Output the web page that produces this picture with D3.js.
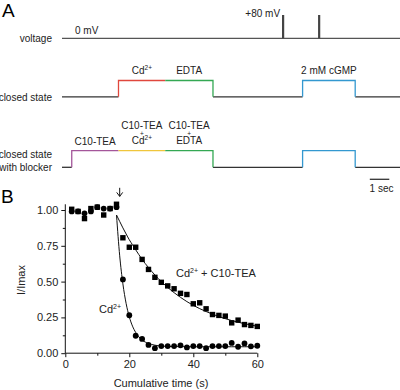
<!DOCTYPE html>
<html><head><meta charset="utf-8">
<script src="https://cdn.jsdelivr.net/npm/d3@7"></script>
<style>body{margin:0;background:#fff}svg{font-family:"Liberation Sans",Arial,sans-serif}</style>
</head><body><svg id="c" width="400" height="390"></svg>
<script>
// ---------- Panel A data (seconds) ----------
const traceEnd = 17.35;
const spikeTimes = [11.35, 13.2];
const closedSteps = [
  {label:"Cd", sup:"2+", on:2.9, off:5.3, color:"#e0473d"},
  {label:"EDTA", sup:"", on:5.3, off:7.75, color:"#34a853"},
  {label:"2 mM cGMP", sup:"", on:12.35, off:15.05, color:"#3398d0"}
];
const blockerSteps = [
  {lines:["C10-TEA"], on:0.5, off:2.9, color:"#a4569a"},
  {lines:["C10-TEA","+","Cd"], on:2.9, off:5.3, color:"#f0c63c"},
  {lines:["C10-TEA","+","EDTA"], on:5.3, off:7.75, color:"#34a853"},
  {lines:[], on:12.35, off:15.05, color:"#3398d0"}
];
// ---------- Panel B data ----------
const times = [2,4,6,8,10,12,14,16,18,20,22,24,26,28,30,32,34,36,38,40,42,44,46,48,50,52,54,56,58,60];
const cdTea = [1.005,0.99,0.94,1.01,1.02,0.965,1.01,1.04,0.806,0.74,0.74,0.655,0.585,0.53,0.495,0.47,0.45,0.418,0.41,0.345,0.352,0.31,0.27,0.264,0.259,0.212,0.231,0.2,0.194,0.187];
const cdOnly = [0.99,0.99,0.977,0.99,1.02,1.01,1.01,1.02,0.515,0.265,0.122,0.1,0.058,0.035,0.05,0.05,0.05,0.055,0.04,0.05,0.05,0.035,0.05,0.05,0.05,0.072,0.045,0.068,0.048,0.052];
const fitTimes = [16,17,18,19,20,21,22,23,24,26,28,30,32,36,40,44,48,52,56,60];
const fitCdTea = [0.965,0.92,0.875,0.833,0.792,0.757,0.722,0.688,0.655,0.598,0.546,0.50,0.459,0.390,0.334,0.291,0.256,0.228,0.206,0.188];
const fitCd = [0.965,0.68,0.484,0.348,0.254,0.189,0.145,0.114,0.092,0.068,0.056,0.050,0.047,0.046,0.045,0.045,0.045,0.045,0.045,0.045];
const yTicks = [0,0.25,0.5,0.75,1.0];
const yMinor = [0.125,0.375,0.625,0.875];
const xTicks = [0,20,40,60];
const xMinor = [10,30,50];

const svg = d3.select("#c");
const ink = "#333";

// ---------- Panel A ----------
svg.append("text").attr("x",2).attr("y",17).attr("font-size",19).text("A");
const tA = d3.scaleLinear().domain([0, traceEnd]).range([62, 400]);
const line = d3.line().x(d=>tA(d[0])).y(d=>d[1]);

// voltage
const vBase = 38.3, vTop = 15;
svg.append("text").attr("x",52).attr("y",42).attr("text-anchor","end").attr("font-size",10).attr("fill","#222").text("voltage");
svg.append("path").attr("d", line([[0,vBase],[traceEnd,vBase]])).attr("stroke","#555").attr("stroke-width",1.3).attr("fill","none");
svg.selectAll(".spike").data(spikeTimes).enter().append("path")
  .attr("d", d=>line([[d,vBase],[d,vTop]])).attr("stroke","#444").attr("stroke-width",2.2).attr("fill","none");
svg.append("text").attr("x",75).attr("y",34).attr("font-size",10).attr("fill","#222").text("0 mV");
svg.append("text").attr("x",tA(spikeTimes[0])-3).attr("y",17).attr("text-anchor","end").attr("font-size",10).attr("fill","#222").text("+80 mV");

function drawTrace(steps, base, high){
  let prev = 0;
  const blacks = [];
  steps.forEach(s=>{ if (s.on > prev) blacks.push([prev, s.on]); prev = s.off; });
  blacks.push([prev, traceEnd]);
  blacks.forEach(b=>{
    svg.append("path").attr("d", line([[b[0],base],[b[1],base]])).attr("stroke",ink).attr("stroke-width",1.3).attr("fill","none");
  });
  steps.forEach((s,i)=>{
    const pts = [];
    const adjPrev = i>0 && steps[i-1].off === s.on;
    const adjNext = i<steps.length-1 && steps[i+1].on === s.off;
    if (!adjPrev) pts.push([s.on, base]);
    pts.push([s.on, high]); pts.push([s.off, high]);
    if (!adjNext) pts.push([s.off, base]);
    svg.append("path").attr("d", line(pts)).attr("stroke",s.color).attr("stroke-width",1.3).attr("fill","none");
  });
}

// closed state
const cBase = 96.8, cHigh = 80.5;
svg.append("text").attr("x",52).attr("y",100.5).attr("text-anchor","end").attr("font-size",10).attr("fill","#222").text("closed state");
drawTrace(closedSteps, cBase, cHigh);
closedSteps.forEach(s=>{
  const t = svg.append("text").attr("x",tA((s.on+s.off)/2)).attr("y",73.5).attr("text-anchor","middle").attr("font-size",10).attr("fill","#222");
  t.append("tspan").text(s.label);
  if (s.sup) t.append("tspan").attr("font-size",6.5).attr("dy",-4).text(s.sup);
});

// closed state with blocker
const bBase = 167.3, bHigh = 150.7;
svg.append("text").attr("x",52).attr("y",158).attr("text-anchor","end").attr("font-size",10).attr("fill","#222").text("closed state");
svg.append("text").attr("x",52).attr("y",171).attr("text-anchor","end").attr("font-size",10).attr("fill","#222").text("with blocker");
drawTrace(blockerSteps, bBase, bHigh);
blockerSteps.forEach(s=>{
  const cx = tA((s.on+s.off)/2);
  if (s.lines.length===1){
    svg.append("text").attr("x",cx).attr("y",145).attr("text-anchor","middle").attr("font-size",10).attr("fill","#222").text(s.lines[0]);
  } else if (s.lines.length===3){
    svg.append("text").attr("x",cx).attr("y",129).attr("text-anchor","middle").attr("font-size",10).attr("fill","#222").text(s.lines[0]);
    svg.append("text").attr("x",cx).attr("y",135.5).attr("text-anchor","middle").attr("font-size",6.5).attr("fill","#222").text(s.lines[1]);
    const t = svg.append("text").attr("x",cx).attr("y",144).attr("text-anchor","middle").attr("font-size",10).attr("fill","#222");
    t.append("tspan").text(s.lines[2]);
    if (s.lines[2]==="Cd") t.append("tspan").attr("font-size",6.5).attr("dy",-4).text("2+");
  }
});
// scale bar 1 sec
svg.append("path").attr("d", line([[traceEnd-1.55,179.3],[traceEnd-0.55,179.3]])).attr("stroke",ink).attr("stroke-width",1.3);
svg.append("text").attr("x",tA(traceEnd-1.05)+2).attr("y",192).attr("text-anchor","middle").attr("font-size",10).attr("fill","#222").text("1 sec");

// ---------- Panel B ----------
svg.append("text").attr("x",1).attr("y",203).attr("font-size",19).text("B");
const x = d3.scaleLinear().domain([0,60]).range([65.3,257.3]);
const y = d3.scaleLinear().domain([0,1]).range([353.2,210]);
const g = svg.append("g");

g.append("line").attr("x1",x(0)).attr("x2",x(0)).attr("y1",y(0)).attr("y2",y(1.04)).attr("stroke","#111");
g.append("line").attr("x1",x(0)).attr("x2",x(60)).attr("y1",y(0)).attr("y2",y(0)).attr("stroke","#111");
const yAxis = d3.axisLeft(y).tickValues(yTicks).tickFormat(d3.format(".2f")).tickSize(4).tickPadding(3);
const ya = g.append("g").attr("transform",`translate(${x(0)},0)`).call(yAxis);
ya.select(".domain").remove();
ya.selectAll("text").attr("font-size",11).attr("font-family","Liberation Sans, Arial").attr("fill","#222");
ya.selectAll("line").attr("stroke","#111");
const yAxisM = d3.axisLeft(y).tickValues(yMinor).tickFormat("").tickSize(2.5);
const yam = g.append("g").attr("transform",`translate(${x(0)},0)`).call(yAxisM);
yam.select(".domain").remove(); yam.selectAll("line").attr("stroke","#111");

const xAxis = d3.axisBottom(x).tickValues(xTicks).tickFormat(d3.format("d")).tickSize(4).tickPadding(3);
const xa = g.append("g").attr("transform",`translate(0,${y(0)})`).call(xAxis);
xa.select(".domain").remove();
xa.selectAll("text").attr("font-size",11).attr("font-family","Liberation Sans, Arial").attr("fill","#222");
xa.selectAll("line").attr("stroke","#111");
const xAxisM = d3.axisBottom(x).tickValues(xMinor).tickFormat("").tickSize(2.5);
const xam = g.append("g").attr("transform",`translate(0,${y(0)})`).call(xAxisM);
xam.select(".domain").remove(); xam.selectAll("line").attr("stroke","#111");

svg.append("text").attr("x",161).attr("y",387).attr("text-anchor","middle").attr("font-size",11).attr("fill","#222").text("Cumulative time (s)");
svg.append("text").attr("transform","translate(25,280) rotate(-90)").attr("text-anchor","middle").attr("font-size",11).attr("fill","#222").text("I/Imax");

const fitLine = d3.line().x(d=>x(d[0])).y(d=>y(d[1])).curve(d3.curveMonotoneX);
g.append("path").attr("d", fitLine(fitTimes.map((t,i)=>[t,fitCdTea[i]]))).attr("fill","none").attr("stroke","#111").attr("stroke-width",1);
g.append("path").attr("d", fitLine(fitTimes.map((t,i)=>[t,fitCd[i]]))).attr("fill","none").attr("stroke","#111").attr("stroke-width",1);

const ms = 5.4;
g.selectAll(".sq").data(times.map((t,i)=>[t,cdTea[i]])).enter().append("rect")
  .attr("x",d=>x(d[0])-ms/2).attr("y",d=>y(d[1])-ms/2).attr("width",ms).attr("height",ms).attr("fill","#000");
g.selectAll(".ci").data(times.map((t,i)=>[t,cdOnly[i]])).enter().append("circle")
  .attr("cx",d=>x(d[0])).attr("cy",d=>y(d[1])).attr("r",2.9).attr("fill","#000");

const ax = x(17);
g.append("line").attr("x1",ax).attr("x2",ax).attr("y1",y(1.155)).attr("y2",y(1.095)).attr("stroke","#111").attr("stroke-width",1);
g.append("path").attr("d",`M${ax-3},${y(1.095)-4}L${ax},${y(1.095)}L${ax+3},${y(1.095)-4}`).attr("fill","none").attr("stroke","#111").attr("stroke-width",1);

const l1 = svg.append("text").attr("x",176).attr("y",277).attr("font-size",11).attr("fill","#222");
l1.append("tspan").text("Cd");
l1.append("tspan").attr("font-size",7).attr("dy",-4).text("2+");
l1.append("tspan").attr("dy",4).text(" + C10-TEA");
const l2 = svg.append("text").attr("x",99).attr("y",313).attr("font-size",11).attr("fill","#222");
l2.append("tspan").text("Cd");
l2.append("tspan").attr("font-size",7).attr("dy",-4).text("2+");
</script></body></html>
